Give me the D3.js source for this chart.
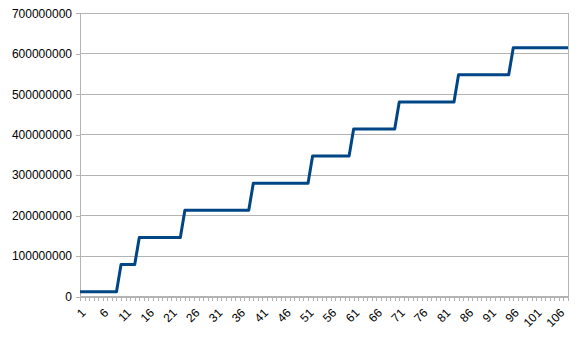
<!DOCTYPE html>
<html>
<head>
<meta charset="utf-8">
<script src="https://cdn.jsdelivr.net/npm/d3@7"></script>
<style>
  html, body { margin: 0; padding: 0; background: #fff; }
  svg { display: block; font-family: "Liberation Sans", Arial, sans-serif; }
</style>
</head>
<body>
<script>
// categories 1..108
var categorias = [
  1, 2, 3, 4, 5, 6, 7, 8, 9, 10, 11, 12, 13, 14, 15, 16, 17, 18, 19, 20,
  21, 22, 23, 24, 25, 26, 27, 28, 29, 30, 31, 32, 33, 34, 35, 36, 37, 38, 39, 40,
  41, 42, 43, 44, 45, 46, 47, 48, 49, 50, 51, 52, 53, 54, 55, 56, 57, 58, 59, 60,
  61, 62, 63, 64, 65, 66, 67, 68, 69, 70, 71, 72, 73, 74, 75, 76, 77, 78, 79, 80,
  81, 82, 83, 84, 85, 86, 87, 88, 89, 90, 91, 92, 93, 94, 95, 96, 97, 98, 99, 100,
  101, 102, 103, 104, 105, 106, 107, 108
];

var valores = [
  12000000, 12000000, 12000000, 12000000, 12000000, 12000000, 12000000, 12000000, 12000000,
  79000000, 79000000, 79000000, 79000000,
  146000000, 146000000, 146000000, 146000000, 146000000, 146000000, 146000000, 146000000, 146000000, 146000000,
  213000000, 213000000, 213000000, 213000000, 213000000, 213000000, 213000000, 213000000, 213000000, 213000000,
  213000000, 213000000, 213000000, 213000000, 213000000,
  280000000, 280000000, 280000000, 280000000, 280000000, 280000000, 280000000, 280000000, 280000000, 280000000,
  280000000, 280000000, 280000000,
  347000000, 347000000, 347000000, 347000000, 347000000, 347000000, 347000000, 347000000, 347000000,
  414000000, 414000000, 414000000, 414000000, 414000000, 414000000, 414000000, 414000000, 414000000, 414000000,
  481000000, 481000000, 481000000, 481000000, 481000000, 481000000, 481000000, 481000000, 481000000, 481000000,
  481000000, 481000000, 481000000,
  548000000, 548000000, 548000000, 548000000, 548000000, 548000000, 548000000, 548000000, 548000000, 548000000,
  548000000, 548000000,
  615000000, 615000000, 615000000, 615000000, 615000000, 615000000, 615000000, 615000000, 615000000, 615000000,
  615000000, 615000000, 615000000
];

var ticksY = [0, 100000000, 200000000, 300000000, 400000000, 500000000, 600000000, 700000000];
var etiquetasX = [1, 6, 11, 16, 21, 26, 31, 36, 41, 46, 51, 56, 61, 66, 71, 76, 81, 86, 91, 96, 101, 106];

var ancho = 578, altura = 341;
var margen = { superior: 13.3, derecho: 10, inferior: 44.5, izquierdo: 80 };
var w = ancho - margen.izquierdo - margen.derecho;
var h = altura - margen.superior - margen.inferior;

var svg = d3.select("body").append("svg")
    .attr("width", ancho)
    .attr("height", altura);

var g = svg.append("g")
    .attr("transform", "translate(" + margen.izquierdo + "," + margen.superior + ")");

var escalaX = d3.scalePoint().domain(categorias).range([0, w]);
var escalaY = d3.scaleLinear().domain([0, 700000000]).range([h, 0]);

// gridlines
g.selectAll(".grid").data(ticksY).enter().append("line")
    .attr("x1", 0).attr("x2", w)
    .attr("y1", function (d) { return escalaY(d); })
    .attr("y2", function (d) { return escalaY(d); })
    .attr("stroke", "#b3b3b3").attr("stroke-width", 1)
    .attr("shape-rendering", "crispEdges");

// right border
g.append("line")
    .attr("x1", w).attr("x2", w).attr("y1", 0).attr("y2", h)
    .attr("stroke", "#b3b3b3").attr("shape-rendering", "crispEdges");

// y axis
var ejeY = g.append("g")
    .call(d3.axisLeft(escalaY).tickValues(ticksY).tickSize(4).tickPadding(4).tickFormat(d3.format("d")));
ejeY.select(".domain").attr("stroke", "#b3b3b3").attr("shape-rendering", "crispEdges");
ejeY.selectAll(".tick line").attr("stroke", "#b3b3b3").attr("shape-rendering", "crispEdges");
ejeY.selectAll("text").style("font-size", "12px").style("font-family", "Liberation Sans").attr("fill", "#000");

// x axis
var ejeX = g.append("g")
    .attr("transform", "translate(0," + h + ")")
    .call(d3.axisBottom(escalaX).tickSize(4).tickSizeOuter(0).tickFormat(function (d) {
        return etiquetasX.indexOf(d) >= 0 ? d : "";
    }));
ejeX.select(".domain").attr("stroke", "#b3b3b3").attr("shape-rendering", "crispEdges");
ejeX.selectAll(".tick line").attr("stroke", "#b3b3b3").attr("shape-rendering", "crispEdges");
ejeX.selectAll("text")
    .style("font-size", "12px").style("font-family", "Liberation Sans").attr("fill", "#000")
    .attr("text-anchor", "end")
    .attr("dy", "0.35em")
    .attr("transform", "translate(3,14) rotate(-45)")
    .attr("y", 0).attr("x", 0);

// line
var linea = d3.line()
    .x(function (d, i) { return escalaX(categorias[i]); })
    .y(function (d) { return escalaY(d); });

g.append("path")
    .datum(valores)
    .attr("d", linea)
    .attr("fill", "none")
    .attr("stroke", "#004586")
    .attr("stroke-width", 3)
    .attr("stroke-linejoin", "round");
</script>
</body>
</html>
